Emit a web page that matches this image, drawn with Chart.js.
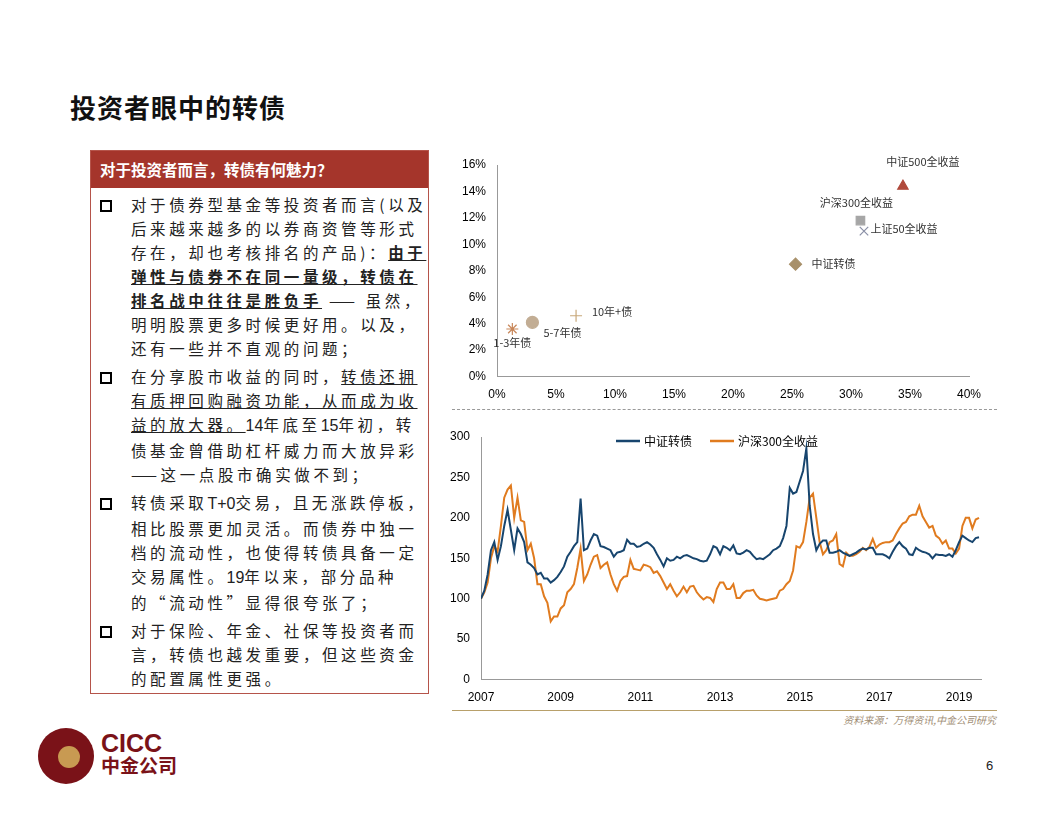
<!DOCTYPE html>
<html>
<head>
<meta charset="utf-8">
<script src="https://cdn.jsdelivr.net/npm/chart.js@4/dist/chart.umd.min.js"></script>
<style>
body { margin: 0; width: 1056px; height: 816px; background: #fff; position: relative; font-family: "Noto Sans CJK SC", sans-serif; overflow: hidden; }
.title { position: absolute; left: 70px; top: 88px; font-size: 26px; font-weight: bold; color: #111; letter-spacing: 1px; }
.box { position: absolute; left: 90px; top: 150px; width: 339px; height: 544px; border: 1px solid #b5544a; box-sizing: border-box; }
.box .head { background: #a5352b; color: #fff; font-weight: bold; font-size: 15.5px; height: 37px; line-height: 37px; padding-left: 9px; }
.item { position: relative; padding-left: 40px; padding-right: 0px; font-size: 15.5px; line-height: 24px; color: #222; letter-spacing: 3.6px; margin-top: 4px; }
.item::before { content: ""; position: absolute; left: 9px; top: 8px; width: 8px; height: 8px; border: 2px solid #000; }
.item b { font-weight: bold; text-decoration: underline; }
.item u { text-decoration: underline; }
.num { font-family: "Liberation Sans", Arial, sans-serif; letter-spacing: 0; font-size: 16px; }
#scatterWrap { position: absolute; left: 452px; top: 150px; width: 545px; height: 255px; }
#lineWrap { position: absolute; left: 440px; top: 426px; width: 557px; height: 282px; }
.dash { position: absolute; left: 452px; top: 409px; width: 545px; border-top: 1px dashed #999; }
.rule { position: absolute; left: 452px; top: 710px; width: 545px; border-top: 1px solid #b8a06a; }
.src { position: absolute; right: 60px; top: 712px; font-size: 10px; font-style: italic; color: #a08d74; }
.page { position: absolute; left: 986px; top: 758px; font-size: 13px; font-family: "Liberation Sans", Arial, sans-serif; color: #222; }
.logo { position: absolute; left: 38px; top: 728px; width: 56px; height: 56px; border-radius: 50%; background: #7a1218; }
.logo::after { content: ""; position: absolute; left: 20px; top: 18px; width: 22px; height: 22px; border-radius: 50%; background: #c89a52; }
.logotxt { position: absolute; left: 101px; top: 732px; color: #7a1218; font-weight: bold; line-height: 22px; }
.logotxt .en { font-family: "Liberation Sans", Arial, sans-serif; font-size: 25px; }
.logotxt .cn { font-size: 19px; }
</style>
</head>
<body>
<div class="title">投资者眼中的转债</div>

<div class="box">
  <div class="head">对于投资者而言，转债有何魅力？</div>
  <div class="item">对于债券型基金等投资者而言(以及后来越来越多的以券商资管等形式存在，却也考核排名的产品)：<b>由于弹性与债券不在同一量级，转债在排名战中往往是胜负手</b> —— 虽然，明明股票更多时候更好用。以及，还有一些并不直观的问题；</div>
  <div class="item">在分享股市收益的同时，<u>转债还拥有质押回购融资功能，从而成为收益的放大器。</u><span class="num">14</span>年底至<span class="num">15</span>年初，转债基金曾借助杠杆威力而大放异彩——这一点股市确实做不到；</div>
  <div class="item">转债采取<span class="num">T+0</span>交易，且无涨跌停板，相比股票更加灵活。而债券中独一档的流动性，也使得转债具备一定交易属性。<span class="num">19</span>年以来，部分品种的“流动性”显得很夸张了；</div>
  <div class="item">对于保险、年金、社保等投资者而言，转债也越发重要，但这些资金的配置属性更强。</div>
</div>

<div id="scatterWrap"><canvas id="scatterChart"></canvas></div>
<div class="dash"></div>
<div id="lineWrap"><canvas id="lineChart"></canvas></div>
<div class="rule"></div>
<div class="src">资料来源：万得资讯,中金公司研究</div>

<div class="logo"></div>
<div class="logotxt"><div class="en">CICC</div><div class="cn">中金公司</div></div>
<div class="page">6</div>

<script>
// scatter: annualised volatility (x, %) vs annualised return (y, %)
const assetNames = ['1-3年债', '5-7年债', '10年+债', '中证转债', '沪深300全收益', '上证50全收益', '中证500全收益'];
const assetVol = [1.3, 3.0, 6.7, 25.3, 30.8, 31.1, 34.4];
const assetRet = [3.6, 4.1, 4.6, 8.5, 11.8, 11.0, 14.4];
const assetShapes = ['star', 'circle', 'cross', 'rectRot', 'rect', 'crossRot', 'triangle'];
const assetColors = ['#c8875a', '#c2ad94', '#c8a87a', '#a8906a', '#a6a6a6', '#8a8fa6', '#b04a3c'];
const labelOffsets = [[0, 14], [30, 10], [36, -4], [38, 0], [-4, -18], [40, -2], [20, -24]];

// line chart: monthly from Jan 2007
const startYear = 2007;
const cbIndex = [
  100,110,130,160,170,148,165,190,210,185,160,187,
  180,170,145,142,138,130,132,125,125,120,123,127,
  133,140,152,158,165,170,224,160,162,172,180,178,
  165,164,162,160,152,157,158,160,173,168,168,164,
  165,168,170,167,163,155,148,140,150,147,148,152,
  150,153,154,152,150,149,147,146,147,155,165,163,
  155,165,163,160,166,156,155,157,160,158,153,149,
  150,149,152,155,160,162,165,175,190,237,230,232,
  245,258,286,215,180,160,168,172,172,157,157,158,
  160,157,155,153,155,157,160,162,161,163,163,155,
  155,155,153,150,158,165,170,165,162,155,154,163,
  160,158,157,155,150,155,154,154,153,155,152,160,
  170,178,175,172,170,175,176
];
const hs300Index = [
  100,108,120,150,165,158,190,225,235,240,200,225,
  197,195,160,168,150,118,118,103,95,72,78,78,
  88,92,108,112,118,138,162,122,130,142,152,154,
  138,142,145,130,118,110,122,127,128,148,137,136,
  135,142,141,139,132,134,128,120,112,118,110,103,
  108,115,108,115,116,108,103,99,102,101,96,112,
  120,120,112,112,118,101,101,107,110,110,111,104,
  100,99,98,99,100,101,110,112,118,122,135,165,
  163,170,195,225,230,200,170,155,160,170,172,180,
  143,140,157,153,153,155,158,163,160,164,174,163,
  167,169,170,170,172,180,187,193,195,202,204,204,
  215,202,195,188,190,178,175,168,172,162,162,156,
  162,190,200,200,187,198,200
];
const yearTicks = [2007, 2009, 2011, 2013, 2015, 2017, 2019];

const tickFont = { family: '"Liberation Sans", Arial, sans-serif', size: 12 };
const axisGray = '#999';

const pointLabels = {
  id: 'pointLabels',
  afterDatasetsDraw(chart) {
    const ctx = chart.ctx;
    ctx.save();
    ctx.font = '11px "Noto Sans CJK SC", sans-serif';
    ctx.fillStyle = '#333';
    ctx.textAlign = 'center';
    ctx.textBaseline = 'middle';
    chart.data.datasets.forEach((ds, i) => {
      const el = chart.getDatasetMeta(i).data[0];
      const off = labelOffsets[i];
      ctx.fillText(ds.label, el.x + off[0], el.y + off[1]);
    });
    ctx.restore();
  }
};

new Chart(document.getElementById('scatterChart'), {
  type: 'scatter',
  data: {
    datasets: assetNames.map((n, i) => ({
      label: n,
      data: [{ x: assetVol[i], y: assetRet[i] }],
      pointStyle: assetShapes[i],
      backgroundColor: assetColors[i],
      borderColor: assetColors[i],
      borderWidth: 1.2,
      pointRadius: 6
    }))
  },
  options: {
    responsive: true, maintainAspectRatio: false, animation: false,
    layout: { padding: { left: 0, right: 28, top: 15, bottom: 0 } },
    plugins: { legend: { display: false }, tooltip: { enabled: false } },
    scales: {
      x: {
        min: 0, max: 40,
        ticks: { stepSize: 5, color: '#000', font: tickFont, callback: v => v + '%' },
        grid: { display: false },
        border: { color: axisGray }
      },
      y: {
        min: 0, max: 16,
        ticks: { stepSize: 2, color: '#000', font: tickFont, callback: v => v + '%' },
        grid: { display: false },
        border: { color: axisGray },
        afterFit: s => { s.width = 45; }
      }
    }
  },
  plugins: [pointLabels]
});

// legend drawn inside the plot area, near the top
const insideLegend = {
  id: 'insideLegend',
  afterDraw(chart) {
    const ctx = chart.ctx;
    const area = chart.chartArea;
    ctx.save();
    ctx.font = '12px "Noto Sans CJK SC", sans-serif';
    ctx.textBaseline = 'middle';
    const y = area.top + 4;
    let x = area.left + 135;
    chart.data.datasets.forEach(ds => {
      ctx.strokeStyle = ds.borderColor;
      ctx.lineWidth = 2.5;
      ctx.beginPath();
      ctx.moveTo(x, y);
      ctx.lineTo(x + 24, y);
      ctx.stroke();
      ctx.fillStyle = '#000';
      ctx.fillText(ds.label, x + 28, y);
      x += 28 + ctx.measureText(ds.label).width + 18;
    });
    ctx.restore();
  }
};

new Chart(document.getElementById('lineChart'), {
  type: 'line',
  data: {
    datasets: [
      { label: '中证转债', data: cbIndex.map((v, i) => ({ x: startYear + i / 12, y: v })), borderColor: '#17456e', borderWidth: 2, pointRadius: 0, tension: 0 },
      { label: '沪深300全收益', data: hs300Index.map((v, i) => ({ x: startYear + i / 12, y: v })), borderColor: '#e07b1f', borderWidth: 2, pointRadius: 0, tension: 0 }
    ]
  },
  options: {
    responsive: true, maintainAspectRatio: false, animation: false,
    layout: { padding: { top: 11, right: 16 } },
    plugins: { tooltip: { enabled: false }, legend: { display: false } },
    scales: {
      x: {
        type: 'linear', min: 2007, max: 2019.55,
        afterBuildTicks: s => { s.ticks = yearTicks.map(v => ({ value: v })); },
        ticks: { color: '#000', font: tickFont, callback: v => String(v), maxRotation: 0 },
        grid: { display: false },
        border: { color: axisGray }
      },
      y: {
        min: 0, max: 300,
        ticks: { stepSize: 50, color: '#000', font: tickFont },
        grid: { display: false },
        border: { color: axisGray },
        afterFit: s => { s.width = 41; }
      }
    }
  },
  plugins: [insideLegend]
});
</script>
</body>
</html>
